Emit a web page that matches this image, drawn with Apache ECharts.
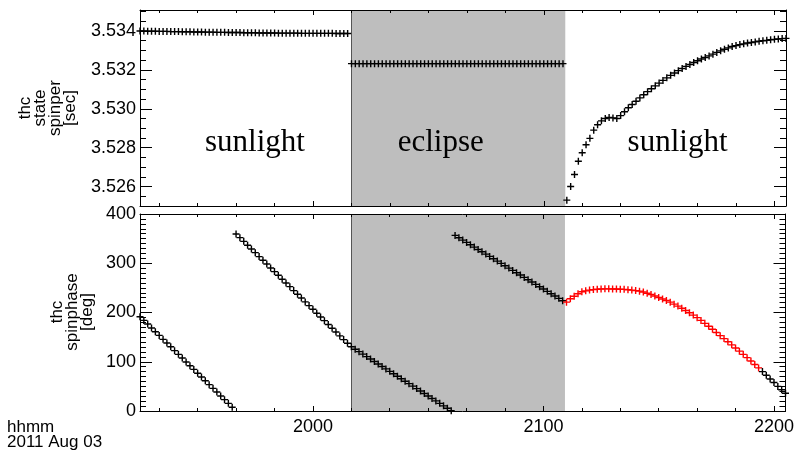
<!DOCTYPE html>
<html>
<head>
<meta charset="utf-8">
<script src="https://cdn.jsdelivr.net/npm/echarts@6/dist/echarts.min.js"></script>
<style>
html,body{margin:0;padding:0;background:#fff;}
#chart{width:797px;height:453px;}
</style>
</head>
<body>
<div id="chart"></div>
<script>
// ---- axis ranges (minutes of day, 2011 Aug 03) ----
const xMin = 1155, xMax = 1323;
const xMajorTicks = [1200, 1260, 1320];
const xMinorTicks = [1160,1170,1180,1190,1210,1220,1230,1240,1250,1270,1280,1290,1300,1310];
const eclipseStart = 1210, eclipseEnd = 1265.6;

const perMin = 3.525, perMax = 3.53508;
const perMajorTicks = [3.526, 3.528, 3.530, 3.532, 3.534];
const perMinorTicks = [3.5255,3.5265,3.527,3.5275,3.5285,3.529,3.5295,3.5305,3.531,3.5315,3.5325,3.533,3.5335,3.5345,3.535];

const phMin = 0, phMax = 400;
const phMajorTicks = [0, 100, 200, 300, 400];
const phMinorTicks = [10,20,30,40,50,60,70,80,90,110,120,130,140,150,160,170,180,190,210,220,230,240,250,260,270,280,290,310,320,330,340,350,360,370,380,390];

// ---- spin period [sec], one sample per minute ----
const perSeg1Start = 1155;
const perSeg1 = [3.53400,3.53400,3.53399,3.53399,3.53399,3.53398,3.53398,3.53398,3.53397,3.53397,
  3.53397,3.53396,3.53396,3.53396,3.53395,3.53395,3.53395,3.53394,3.53394,3.53394,
  3.53393,3.53393,3.53393,3.53392,3.53392,3.53392,3.53392,3.53391,3.53391,3.53391,
  3.53391,3.53390,3.53390,3.53390,3.53390,3.53390,3.53389,3.53389,3.53389,3.53389,
  3.53389,3.53389,3.53388,3.53388,3.53388,3.53388,3.53388,3.53388,3.53388,3.53388,
  3.53388,3.53387,3.53387,3.53387,3.53387];
const perSeg2Start = 1210;
const perSeg2 = [3.53232,3.53232,3.53232,3.53232,3.53232,3.53232,3.53232,3.53232,3.53232,3.53232,
  3.53232,3.53232,3.53232,3.53232,3.53232,3.53232,3.53232,3.53232,3.53232,3.53232,
  3.53232,3.53232,3.53232,3.53232,3.53232,3.53232,3.53232,3.53232,3.53232,3.53232,
  3.53232,3.53232,3.53232,3.53232,3.53232,3.53232,3.53232,3.53232,3.53232,3.53232,
  3.53232,3.53232,3.53232,3.53232,3.53232,3.53232,3.53232,3.53232,3.53232,3.53232,
  3.53232,3.53232,3.53232,3.53232,3.53232,3.53232];
const perSeg3Start = 1266;
const perSeg3 = [3.52530,3.52600,3.52662,3.52730,3.52774,3.52815,3.52848,3.52890,3.52918,3.52938,
  3.52950,3.52955,3.52953,3.52950,3.52965,3.52985,3.53005,3.53022,3.53039,3.53056,
  3.53072,3.53088,3.53103,3.53118,3.53132,3.53146,3.53159,3.53172,3.53184,3.53196,
  3.53207,3.53218,3.53228,3.53238,3.53247,3.53256,3.53264,3.53272,3.53281,3.53290,
  3.53298,3.53306,3.53313,3.53320,3.53325,3.53330,3.53334,3.53338,3.53341,3.53344,
  3.53347,3.53350,3.53352,3.53355,3.53357,3.53359,3.53361,3.53362];

// ---- spin phase [deg], one sample per minute ----
const ph1Start = 1155;
const ph1 = [191.5,184,176.5,168.5,161,153.5,145.5,138,130.5,122.5,115,107.5,99.5,92,84.5,76.5,69,61.5,53.5,46,38.5,30.5,23,15.5,7.5];
const ph2Start = 1180;
const ph2 = [359.5,352,344.5,336.5,329,321.5,313.5,306,298.5,290.5,283,275.5,267.5,260,252.5,244.5,237,229.5,221.5,214,206.5,198.5,191,183.5,175.5,168,160.5,152.5,145,137.5,
  130.5,125.5,120.5,115.5,110.5,105.5,100.5,95.5,90.5,85.5,80.5,75.5,70.5,65.5,60.5,55.5,50.5,45.5,40.5,35.5,30.5,25.5,20.5,15.5,10.5,5.5,0.5];
const ph3Start = 1237;
const ph3 = [356.5,351.8,347,342.3,337.6,332.8,328,323.4,318.6,313.9,309.2,304.4,299.7,295,290.2,285.5,280.8,276,271.3,266.6,261.8,257.1,252.4,247.6,242.9,238.2,233.4,228.7,224];
const phRedStart = 1266;
const phRed = [221,228,233,238,242,244,245.5,246.5,247.3,247.8,248,248,247.8,247.6,247.3,247,246.3,245.5,244.5,243.3,
  241.5,239,236.5,233.5,230.5,227.5,224.5,221,217,213,208.5,204,199.5,194.7,189.5,184,178,172,166,159.5,
  153,147,140.5,134.3,128,121.5,115,108.3,101.5,94.5,87.5];
const ph4Start = 1317;
const ph4 = [80,72.5,65,58,50,43,36];

// ---- labels ----
const perTitle = 'thc\nstate\nspinper\n[sec]';
const phTitle = 'thc\nspinphase\n[deg]';
const timeTitle = 'hhmm\n2011 Aug 03';
const regionLabels = ['sunlight', 'eclipse', 'sunlight'];
const regionLabelTimes = [1184.9, 1233.2, 1294.8];
const regionLabelLevel = 3.52825;

const FONT = "'Liberation Sans', Arial, Helvetica, sans-serif";
const toPairs = (start, vals) => vals.map((v, i) => [start + i, v]);
const hhmm = v => { const h = Math.floor(v / 60), m = Math.round(v - h * 60); return String(h).padStart(2,'0') + String(m).padStart(2,'0'); };
const PLUS = 'path://M4,0h2v4h4v2h-4v4h-2v-4h-4v-2h4z';

const chart = echarts.init(document.getElementById('chart'), null, {renderer: 'canvas'});

function xAxes(g, showLabels) {
  const base = {gridIndex: g, type: 'value', min: xMin, max: xMax, splitLine: {show: false}, z: 10};
  return [
    Object.assign({}, base, {position: 'bottom', axisLine: {show: true, onZero: false, lineStyle: {color: '#000', width: 1}},
      axisTick: {show: true, inside: true, length: 5, customValues: xMajorTicks, lineStyle: {color: '#000'}},
      axisLabel: {show: showLabels, customValues: xMajorTicks, formatter: hhmm, color: '#000', fontSize: 18, fontFamily: FONT, margin: 7}}),
    Object.assign({}, base, {position: 'bottom', axisLine: {show: false, onZero: false},
      axisTick: {show: true, inside: true, length: 3, customValues: xMinorTicks, lineStyle: {color: '#000'}}, axisLabel: {show: false}}),
    Object.assign({}, base, {position: 'top', axisLine: {show: true, onZero: false, lineStyle: {color: '#000', width: 1}},
      axisTick: {show: true, inside: true, length: 5, customValues: xMajorTicks, lineStyle: {color: '#000'}}, axisLabel: {show: false}}),
    Object.assign({}, base, {position: 'top', axisLine: {show: false, onZero: false},
      axisTick: {show: true, inside: true, length: 3, customValues: xMinorTicks, lineStyle: {color: '#000'}}, axisLabel: {show: false}})
  ];
}
function yAxes(g, min, max, major, minor, fmt) {
  const base = {gridIndex: g, type: 'value', min: min, max: max, splitLine: {show: false}, z: 10, scale: true};
  return [
    Object.assign({}, base, {position: 'left', axisLine: {show: true, onZero: false, lineStyle: {color: '#000', width: 1}},
      axisTick: {show: true, inside: true, length: 12, customValues: major, lineStyle: {color: '#000'}},
      axisLabel: {show: true, customValues: major, formatter: fmt, color: '#000', fontSize: 18, fontFamily: FONT, margin: 4}}),
    Object.assign({}, base, {position: 'left', axisLine: {show: false, onZero: false},
      axisTick: {show: true, inside: true, length: 6, customValues: minor, lineStyle: {color: '#000'}}, axisLabel: {show: false}}),
    Object.assign({}, base, {position: 'right', axisLine: {show: true, onZero: false, lineStyle: {color: '#000', width: 1}},
      axisTick: {show: true, inside: true, length: 12, customValues: major, lineStyle: {color: '#000'}}, axisLabel: {show: false}}),
    Object.assign({}, base, {position: 'right', axisLine: {show: false, onZero: false},
      axisTick: {show: true, inside: true, length: 6, customValues: minor, lineStyle: {color: '#000'}}, axisLabel: {show: false}})
  ];
}

function plusSeries(xi, yi, data, color, extra) {
  return Object.assign({
    type: 'scatter', xAxisIndex: xi, yAxisIndex: yi, data: data,
    symbol: PLUS, symbolSize: 7, itemStyle: {color: color, opacity: 1},
    animation: false, silent: true, z: 5
  }, extra || {});
}

const eclipseMark = {
  markArea: {silent: true, itemStyle: {color: '#bebebe', opacity: 1}, data: [[{xAxis: eclipseStart}, {xAxis: eclipseEnd}]]},
  markLine: {silent: true, symbol: 'none', label: {show: false}, lineStyle: {color: '#555', width: 1, type: 'solid'}, data: [{xAxis: eclipseStart}]}
};

const option = {
  backgroundColor: '#fff',
  animation: false,
  grid: [
    {left: 140, right: 11, top: 10, height: 196},
    {left: 140, right: 11, top: 214, height: 197}
  ],
  xAxis: xAxes(0, false).concat(xAxes(1, true)),
  yAxis: yAxes(0, perMin, perMax, perMajorTicks, perMinorTicks, v => v.toFixed(3))
    .concat(yAxes(1, phMin, phMax, phMajorTicks, phMinorTicks, v => String(Math.round(v)))),
  series: [
    plusSeries(0, 0, toPairs(perSeg1Start, perSeg1), '#000', eclipseMark),
    plusSeries(0, 0, toPairs(perSeg2Start, perSeg2), '#000'),
    plusSeries(0, 0, toPairs(perSeg3Start, perSeg3), '#000'),
    plusSeries(4, 4, toPairs(ph1Start, ph1), '#000', eclipseMark),
    plusSeries(4, 4, toPairs(ph2Start, ph2), '#000'),
    plusSeries(4, 4, toPairs(ph3Start, ph3), '#000'),
    plusSeries(4, 4, toPairs(phRedStart, phRed), '#ff0000'),
    plusSeries(4, 4, toPairs(ph4Start, ph4), '#000')
  ]
};
chart.setOption(option);

// text annotations placed using the axis scales
function addTexts() {
  const g = [];
  regionLabels.forEach((t, i) => {
    const p = chart.convertToPixel({xAxisIndex: 0, yAxisIndex: 0}, [regionLabelTimes[i], regionLabelLevel]);
    g.push({type: 'text', x: p[0], y: p[1], z: 20, silent: true,
      style: {text: t, font: "31px 'Liberation Serif', 'Times New Roman', serif", fill: '#000', textAlign: 'center', textVerticalAlign: 'middle', verticalAlign: 'middle'}});
  });
  g.push({type: 'text', x: 48, y: 108, rotation: Math.PI / 2, z: 20, silent: true,
    style: {text: perTitle, font: '17px ' + FONT, lineHeight: 15, fill: '#000', textAlign: 'center', textVerticalAlign: 'middle', verticalAlign: 'middle'}});
  g.push({type: 'text', x: 72, y: 312, rotation: Math.PI / 2, z: 20, silent: true,
    style: {text: phTitle, font: '17px ' + FONT, lineHeight: 15, fill: '#000', textAlign: 'center', textVerticalAlign: 'middle', verticalAlign: 'middle'}});
  g.push({type: 'text', x: 7, y: 420, z: 20, silent: true,
    style: {text: timeTitle, font: '17px ' + FONT, lineHeight: 15, fill: '#000', textAlign: 'left', textVerticalAlign: 'top', verticalAlign: 'top'}});
  chart.setOption({graphic: g});
}
addTexts();
</script>
</body>
</html>
